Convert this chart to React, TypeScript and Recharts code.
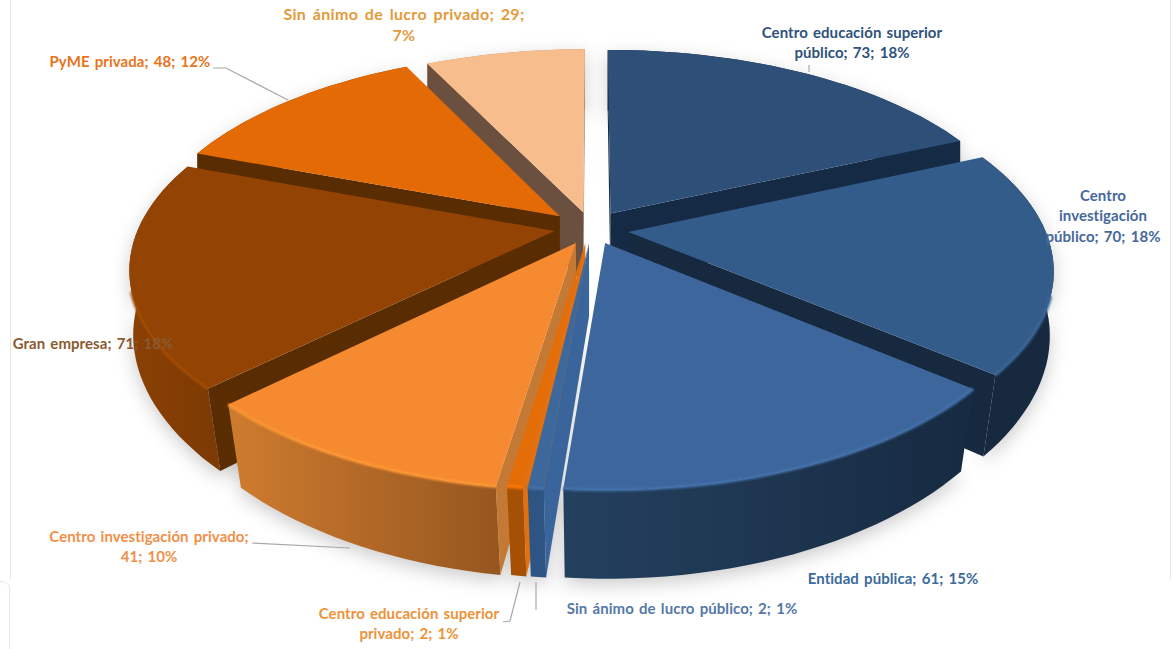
import React from "react";
import { PieChart, Pie } from "recharts";

const categories = [
  "Centro educación superior público",
  "Centro investigación público",
  "Entidad pública",
  "Sin ánimo de lucro público",
  "Centro educación superior privado",
  "Centro investigación privado",
  "Gran empresa",
  "PyME privada",
  "Sin ánimo de lucro privado",
];
const values = [73, 70, 61, 2, 2, 41, 71, 48, 29];
const labelLines = [
  ["Centro educación superior", "público; 73; 18%"],
  ["Centro", "investigación", "público; 70; 18%"],
  ["Entidad pública; 61; 15%"],
  ["Sin ánimo de lucro público; 2; 1%"],
  ["Centro educación superior", "privado; 2; 1%"],
  ["Centro investigación privado;", "41; 10%"],
  ["Gran empresa; 71; 18%"],
  ["PyME privada; 48; 12%"],
  ["Sin ánimo de lucro privado; 29;", "7%"],
];

// styling of each slice
const topColors = ["#2d4f78", "#345c8a", "#3d679c", "#3d689c", "#e56d08", "#f58a30", "#934303", "#e36a05", "#f8bd8c"];
const cutColors = ["#152a45", "#17293f", "#16293f", "#3a659c", "#e07010", "#c47a35", "#5a2c02", "#5a2c02", "#6b5040"];
const wallFrom = ["#182b42", "#17293f", "#24405f", "#2e5483", "#a65006", "#cc7a2e", "#8a4003", "#8a4003", "#c08a60"];
const wallTo = ["#182b42", "#17293f", "#172b42", "#2e5483", "#a65006", "#96561f", "#7c3a05", "#8a4003", "#c08a60"];
const labelColors = ["#2f527c", "#46689a", "#3b6a9c", "#5578a6", "#ee9238", "#f09048", "#8a5a30", "#e8741a", "#e39a3a"];
// per-slice explosion, as fractions of the radius
const explodeU = [0.045, 0.087, 0.031, -0.007, -0.016, -0.038, -0.09, -0.078, -0.021];
const explodeV = [-0.075, 0.02, 0.075, 0.075, 0.075, 0.075, 0.015, -0.06, -0.08];
// label anchors (centre x, first-line y) and leader lines
const labelX = [852, 1103, 893, 682, 409, 149, 93, 130, 404];
const labelY = [34, 197, 580, 610, 615, 538, 345, 63, 16];
const leaders: number[][][] = [
  [[809, 65], [809, 72]],
  [],
  [],
  [[536, 582], [536, 610]],
  [[503, 622], [510, 621], [520, 582]],
  [[252, 543], [350, 548]],
  [],
  [[213, 68], [226, 68], [288, 100]],
  [],
];

const chartData = categories.map((name, i) => ({ name, value: values[i], slot: i }));
const paintOrder = [0, 8, 7, 1, 6, 2, 5, 4, 3];

const RADIUS = 416;
const CX = 592;
const CY = 228;
const Y_RATIO = 0.474;
const PERSPECTIVE = 0.177;
const DEPTH = 72;
const CONVERGE = 0.045;

type Pt = [number, number];
const project = (cx: number, cy: number, r: number, u: number, v: number, z: number): Pt => {
  const s = 1 / (1 - PERSPECTIVE * v);
  const shrink = 1 - (CONVERGE * Math.max(0, v) * z) / DEPTH;
  return [cx + r * u * s * shrink, cy + r * Y_RATIO * v * s + z * s];
};
const toPath = (pts: Pt[]) => "M" + pts.map((p) => `${p[0].toFixed(1)},${p[1].toFixed(1)}`).join("L") + "Z";
const toLine = (pts: Pt[]) => "M" + pts.map((p) => `${p[0].toFixed(1)},${p[1].toFixed(1)}`).join("L");

const geometry = (props: any) => {
  const slot = props.payload?.slot ?? props.slot;
  const { cx, cy, outerRadius, startAngle, endAngle } = props;
  const du = explodeU[slot];
  const dv = explodeV[slot];
  const steps = Math.max(2, Math.ceil(Math.abs(endAngle - startAngle) / 2));
  const rim: { u: number; v: number }[] = [];
  for (let i = 0; i <= steps; i++) {
    const a = ((startAngle + ((endAngle - startAngle) * i) / steps) * Math.PI) / 180;
    rim.push({ u: Math.cos(a) + du, v: -Math.sin(a) + dv });
  }
  const P = (u: number, v: number, z: number) => project(cx, cy, outerRadius, u, v, z);
  const apexTop = P(du, dv, 0);
  const apexBot = P(du, dv, DEPTH);
  const rimTop = rim.map((q) => P(q.u, q.v, 0));
  const rimBot = rim.map((q) => P(q.u, q.v, DEPTH));
  return { slot, rim, apexTop, apexBot, rimTop, rimBot };
};

// a cut face shows only when the slice's top lies above its edge on screen
const cutFaces = (a: Pt, r: Pt, inner: Pt) => {
  const ex = r[0] - a[0];
  const ey = r[1] - a[1];
  const sideDown = ex; // cross(edge, (0,1))
  const sideInner = ex * (inner[1] - a[1]) - ey * (inner[0] - a[0]);
  return sideDown * sideInner < 0;
};

const makeSlice = (target: number) => (props: any) => {
  const { slot, rim, apexTop, apexBot, rimTop, rimBot } = geometry(props);
  if (slot !== target) return <g />;
  const xs = rimBot.map((p) => p[0]);
  const gradId = `wall-${slot}`;
  const wall = toPath([...rimTop, ...[...rimBot].reverse()]);
  const last = rimTop.length - 1;
  const mid = rimTop[Math.floor(last / 2)];
  const cutA = toPath([apexTop, rimTop[0], rimBot[0], apexBot]);
  const cutB = toPath([apexTop, rimTop[last], rimBot[last], apexBot]);
  const bevel = rimTop.filter((_, i) => rim[i].v > 0.3);
  return (
    <g>
      <defs>
        <linearGradient id={gradId} gradientUnits="userSpaceOnUse" x1={Math.min(...xs)} x2={Math.max(...xs)} y1={0} y2={0}>
          <stop offset="0" stopColor={wallFrom[slot]} />
          <stop offset="1" stopColor={wallTo[slot]} />
        </linearGradient>
      </defs>
      <path d={wall} fill={`url(#${gradId})`} />
      {cutFaces(apexTop, rimTop[0], mid) && <path d={cutA} fill={cutColors[slot]} />}
      {cutFaces(apexTop, rimTop[last], mid) && <path d={cutB} fill={cutColors[slot]} />}
      <path d={toPath([apexTop, ...rimTop])} fill={topColors[slot]} />
      {bevel.length > 1 && (
        <path d={toLine(bevel)} fill="none" stroke={topColors[slot]} strokeWidth={3} style={{ filter: "brightness(1.1) blur(1.2px)" }} />
      )}
    </g>
  );
};

const shadowShape = (props: any) => {
  const { apexBot, rimTop, rimBot } = geometry(props);
  const d = toPath([apexBot, ...rimBot, ...[...rimTop].reverse()]);
  return <path d={d} fill="#000" fillOpacity={0.2} transform="translate(0 6)" style={{ filter: "blur(9px)" }} />;
};

const emptyShape = () => <g />;

const renderLabel = (props: any) => {
  const slot = props.payload?.slot ?? props.slot;
  return (
    <g>
      {leaders[slot].length > 0 && (
        <path d={leaders[slot].map((p, i) => `${i ? "L" : "M"}${p[0]},${p[1]}`).join("")} fill="none" stroke="#a8a8a8" strokeWidth={1.2} />
      )}
      {labelLines[slot].map((line, i) => (
        <text
          key={i}
          x={labelX[slot]}
          y={labelY[slot] + i * 20.5}
          textAnchor="middle"
          dominantBaseline="middle"
          fontFamily="Lato, sans-serif"
          fontWeight={700}
          fontSize={slot === 8 ? 16 : 15}
          wordSpacing={slot === 8 ? 2.5 : 1.5}
          letterSpacing={slot === 8 ? 0.3 : 0.05}
          fill={labelColors[slot]}
        >
          {line}
        </text>
      ))}
    </g>
  );
};

const pieProps = {
  data: chartData,
  dataKey: "value",
  nameKey: "name",
  cx: CX,
  cy: CY,
  innerRadius: 0,
  outerRadius: RADIUS,
  startAngle: 90,
  endAngle: -270,
  stroke: "none",
  isAnimationActive: false,
};

export default function App() {
  return (
    <div style={{ position: "absolute", left: 0, top: 0, width: 1173, height: 649, overflow: "hidden", background: "#fff" }}>
      <div style={{ position: "absolute", left: 10, top: 0, width: 1159, height: 580, borderLeft: "1px solid #e6e6e6", borderRight: "1px solid #e6e6e6" }} />
      <div style={{ position: "absolute", left: -10, top: 581, width: 18, height: 80, border: "1px solid #e6e6e6", borderRadius: 8 }} />
      <PieChart width={1173} height={649} margin={{ top: 0, right: 0, bottom: 0, left: 0 }} style={{ position: "absolute", left: 0, top: 0 }}>
        <Pie {...pieProps} shape={shadowShape} />
        {paintOrder.map((slot) => (
          <Pie key={slot} {...pieProps} shape={makeSlice(slot)} />
        ))}
        <Pie {...pieProps} shape={emptyShape} label={renderLabel} labelLine={false} />
      </PieChart>
    </div>
  );
}
